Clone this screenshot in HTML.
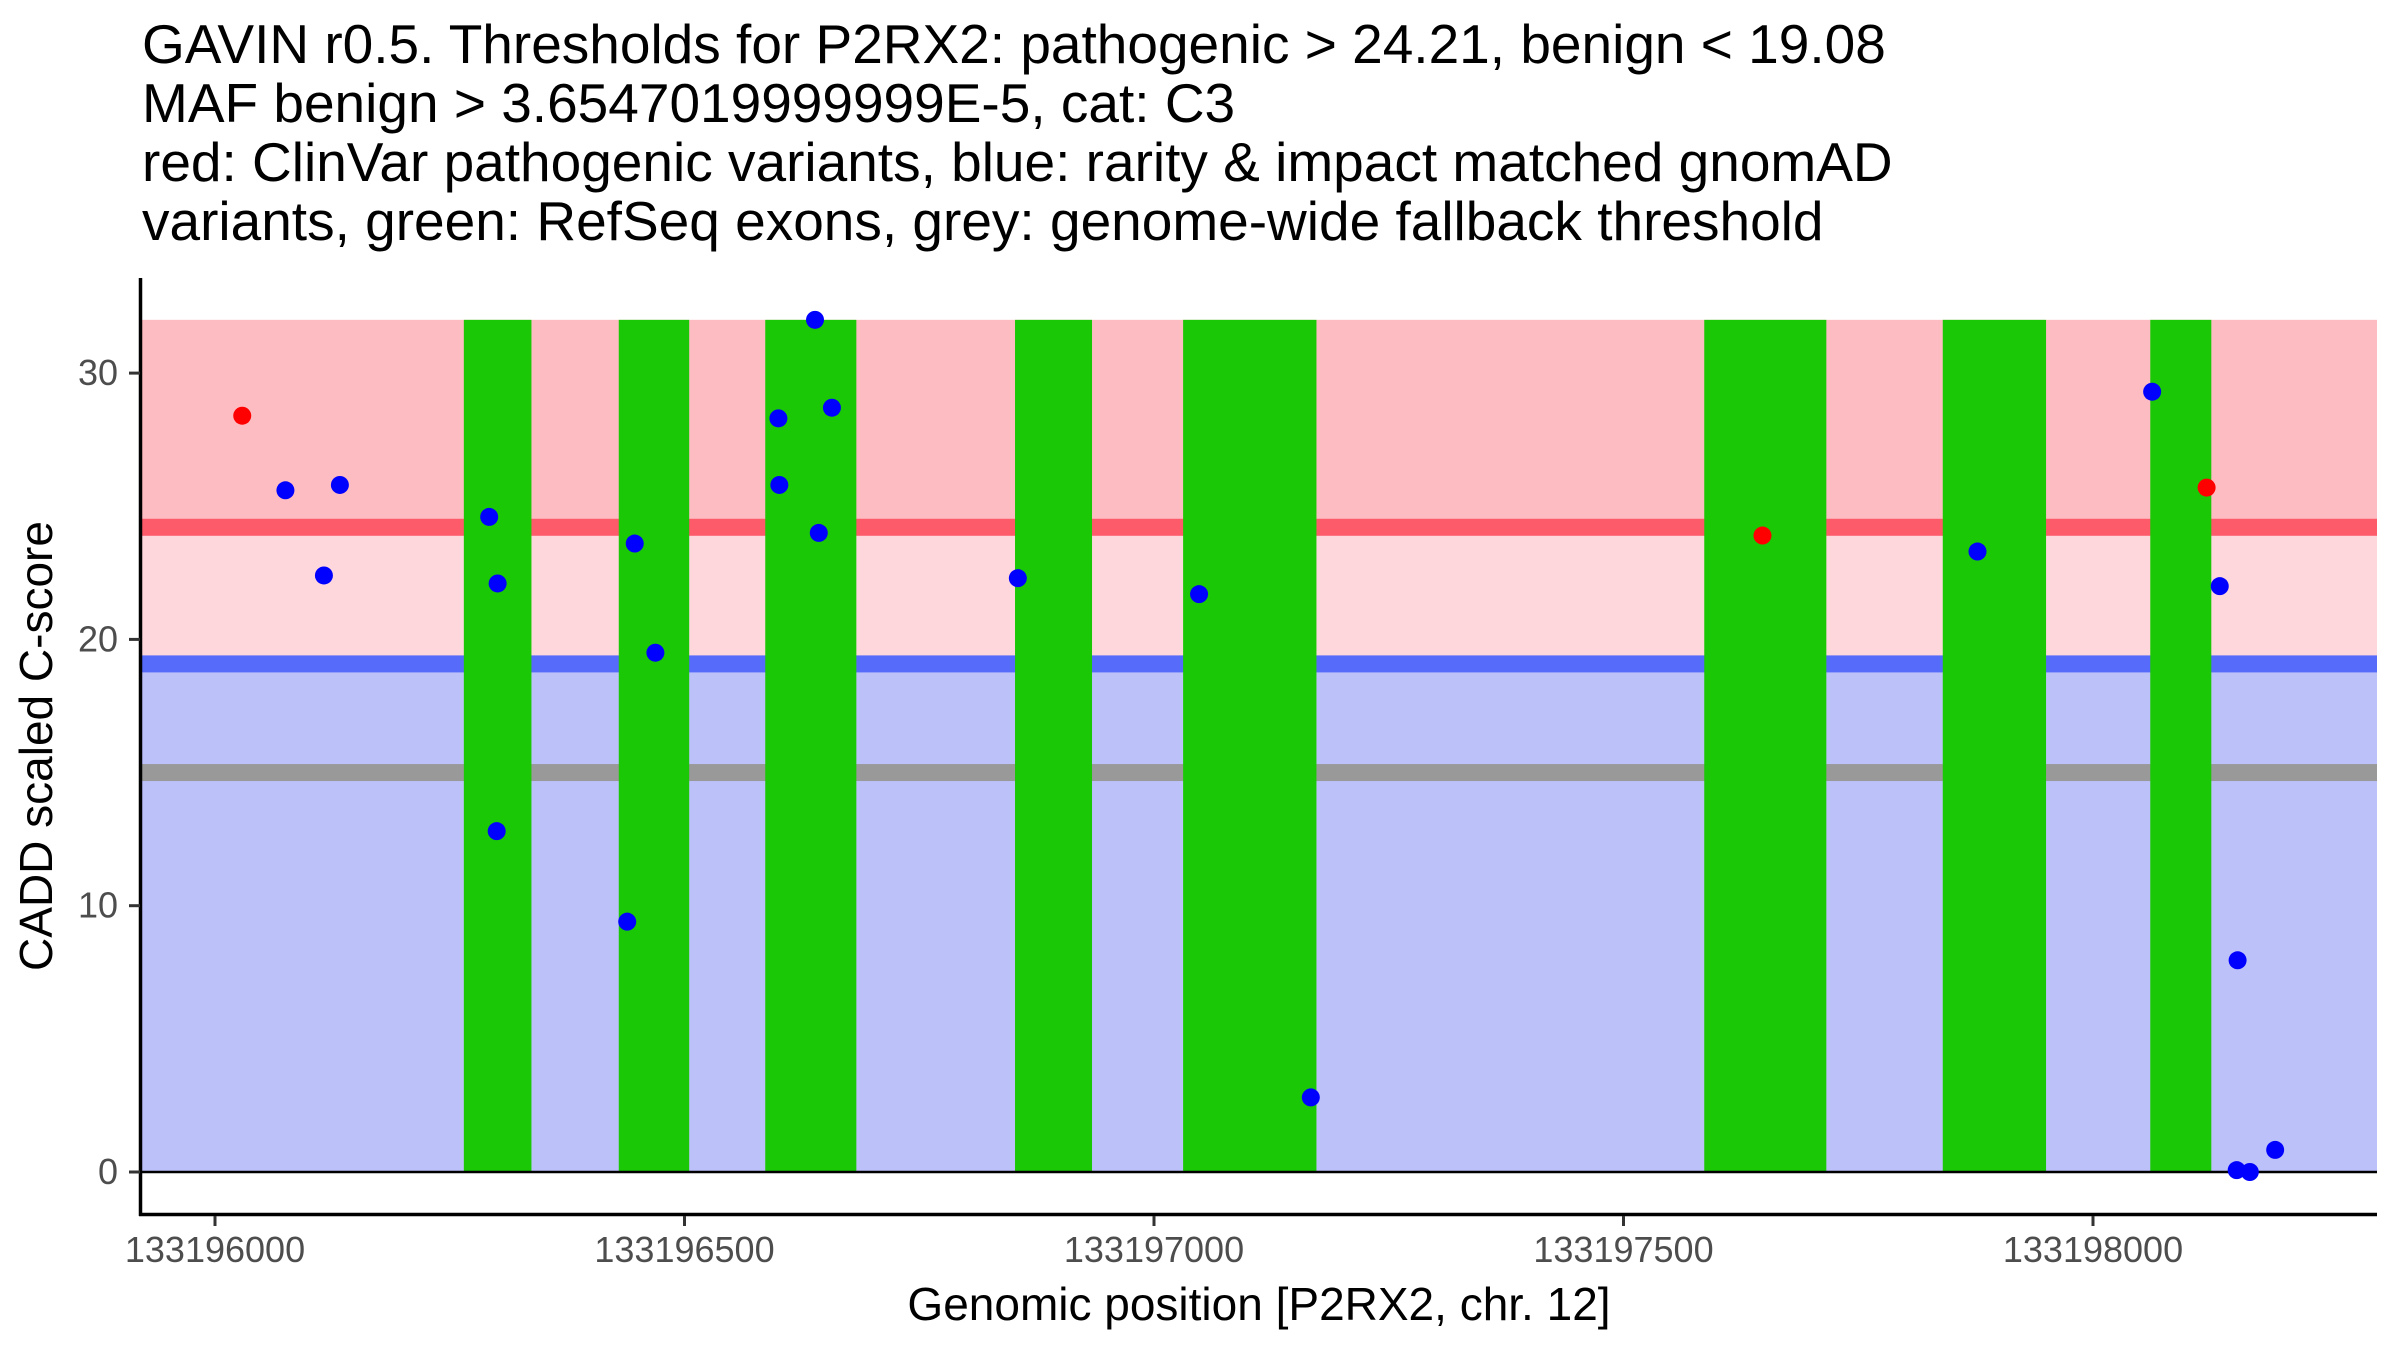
<!DOCTYPE html>
<html><head><meta charset="utf-8"><style>
html,body{margin:0;padding:0;background:#fff}
svg{display:block}
text{font-family:"Liberation Sans",Arial,sans-serif}
</style></head><body>
<svg id="chart" width="2400" height="1350" viewBox="0 0 2400 1350" xmlns="http://www.w3.org/2000/svg">
<g font-size="55" fill="#000">
<text x="142" y="63">GAVIN r0.5. Thresholds for P2RX2: pathogenic &gt; 24.21, benign &lt; 19.08</text>
<text x="142" y="122">MAF benign &gt; 3.6547019999999E-5, cat: C3</text>
<text x="142" y="181">red: ClinVar pathogenic variants, blue: rarity &amp; impact matched gnomAD</text>
<text x="142" y="240">variants, green: RefSeq exons, grey: genome-wide fallback threshold</text>
</g>
<g id="bands"></g>
<g id="exons"></g>
<g id="points"></g>
<g id="axes"></g>
<text transform="translate(52,746) rotate(-90)" text-anchor="middle" font-size="46" fill="#000">CADD scaled C-score</text>
<text x="1259" y="1320" text-anchor="middle" font-size="46" fill="#000">Genomic position [P2RX2, chr. 12]</text>
</svg>
<script>
const exonStarts = [133196265, 133196430, 133196586, 133196852, 133197031, 133197586, 133197840, 133198061];
const exonEnds   = [133196337, 133196505, 133196683, 133196934, 133197173, 133197716, 133197950, 133198126];
const redPos   = [133196029, 133197648, 133198121];
const redScore = [28.4, 23.9, 25.7];
const bluePos   = [133196075, 133196133, 133196116, 133196292, 133196301, 133196300, 133196447, 133196469, 133196439, 133196600, 133196601, 133196639, 133196657, 133196643, 133196855, 133197048, 133197167, 133197877, 133198063, 133198135, 133198154, 133198153, 133198167, 133198194];
const blueScore = [25.6, 25.8, 22.4, 24.6, 22.1, 12.8, 23.6, 19.5, 9.4, 28.3, 25.8, 32.0, 28.7, 24.0, 22.3, 21.7, 2.8, 23.3, 29.3, 22.0, 7.95, 0.07, 0.0, 0.83];
const xTicks = [133196000, 133196500, 133197000, 133197500, 133198000];
const yTicks = [0, 10, 20, 30];
const pathoThr = 24.21, benignThr = 19.08, fallbackThr = 15, maxScore = 32;

const NS = 'http://www.w3.org/2000/svg';
const X0 = 141, X1 = 2377;
function xs(bp){ return 215 + (bp - 133196000) * 0.939; }
function ys(v){ return 1172 - v * 26.63; }
function mk(parent, tag, attrs){ const e = document.createElementNS(NS, tag); for (const k in attrs) e.setAttribute(k, attrs[k]); parent.appendChild(e); return e; }

const bands = document.getElementById('bands');
let r;
r = mk(bands,'rect',{x:X0,y:ys(maxScore),width:X1-X0,height:ys(pathoThr)-ys(maxScore),fill:'#fdbcc1'});


r = mk(bands,'rect',{x:X0,y:ys(pathoThr),width:X1-X0,height:ys(benignThr)-ys(pathoThr),fill:'#fed7dc'});


r = mk(bands,'rect',{x:X0,y:ys(benignThr),width:X1-X0,height:ys(0)-ys(benignThr),fill:'#bcc1fa'});


r = mk(bands,'rect',{x:X0,y:ys(pathoThr)-8.5,width:X1-X0,height:17,fill:'#fd5a6a'});


r = mk(bands,'rect',{x:X0,y:ys(benignThr)-8.5,width:X1-X0,height:17,fill:'#566bf9'});


r = mk(bands,'rect',{x:X0,y:ys(fallbackThr)-8.5,width:X1-X0,height:17,fill:'#999999'});



const exons = document.getElementById('exons');
for (let i = 0; i < exonStarts.length; i++){
  const e = mk(exons,'rect',{x:xs(exonStarts[i]),y:ys(maxScore),width:xs(exonEnds[i])-xs(exonStarts[i]),height:ys(0)-ys(maxScore),fill:'#1bc805'});
  
  
}
const zl = mk(exons,'line',{x1:X0,x2:X1,y1:ys(0),y2:ys(0),stroke:'#000','stroke-width':2.5});



const pts = document.getElementById('points');
for (let i = 0; i < bluePos.length; i++){
  const c = mk(pts,'circle',{cx:xs(bluePos[i]),cy:ys(blueScore[i]),r:9,fill:'#0000ff'});
  
  
}
for (let i = 0; i < redPos.length; i++){
  const c = mk(pts,'circle',{cx:xs(redPos[i]),cy:ys(redScore[i]),r:9,fill:'#ff0000'});
  
  
}

const axes = document.getElementById('axes');
let a = mk(axes,'line',{x1:140.5,x2:140.5,y1:278,y2:1216,stroke:'#000','stroke-width':3.5});


a = mk(axes,'line',{x1:139,x2:X1,y1:1214.5,y2:1214.5,stroke:'#000','stroke-width':3.5});


for (const t of yTicks){
  const tk = mk(axes,'line',{x1:129,x2:140,y1:ys(t),y2:ys(t),stroke:'#333','stroke-width':3});
  
  
  const tl = mk(axes,'text',{x:118,y:ys(t)+12,'text-anchor':'end','font-size':36,fill:'#4d4d4d'});
  tl.textContent = String(t);
  
  
}
for (const t of xTicks){
  const tk = mk(axes,'line',{x1:xs(t),x2:xs(t),y1:1216,y2:1226,stroke:'#333','stroke-width':3});
  
  
  const tl = mk(axes,'text',{x:xs(t),y:1262,'text-anchor':'middle','font-size':36,fill:'#4d4d4d'});
  tl.textContent = String(t);
  
  
}
</script>
</body></html>
